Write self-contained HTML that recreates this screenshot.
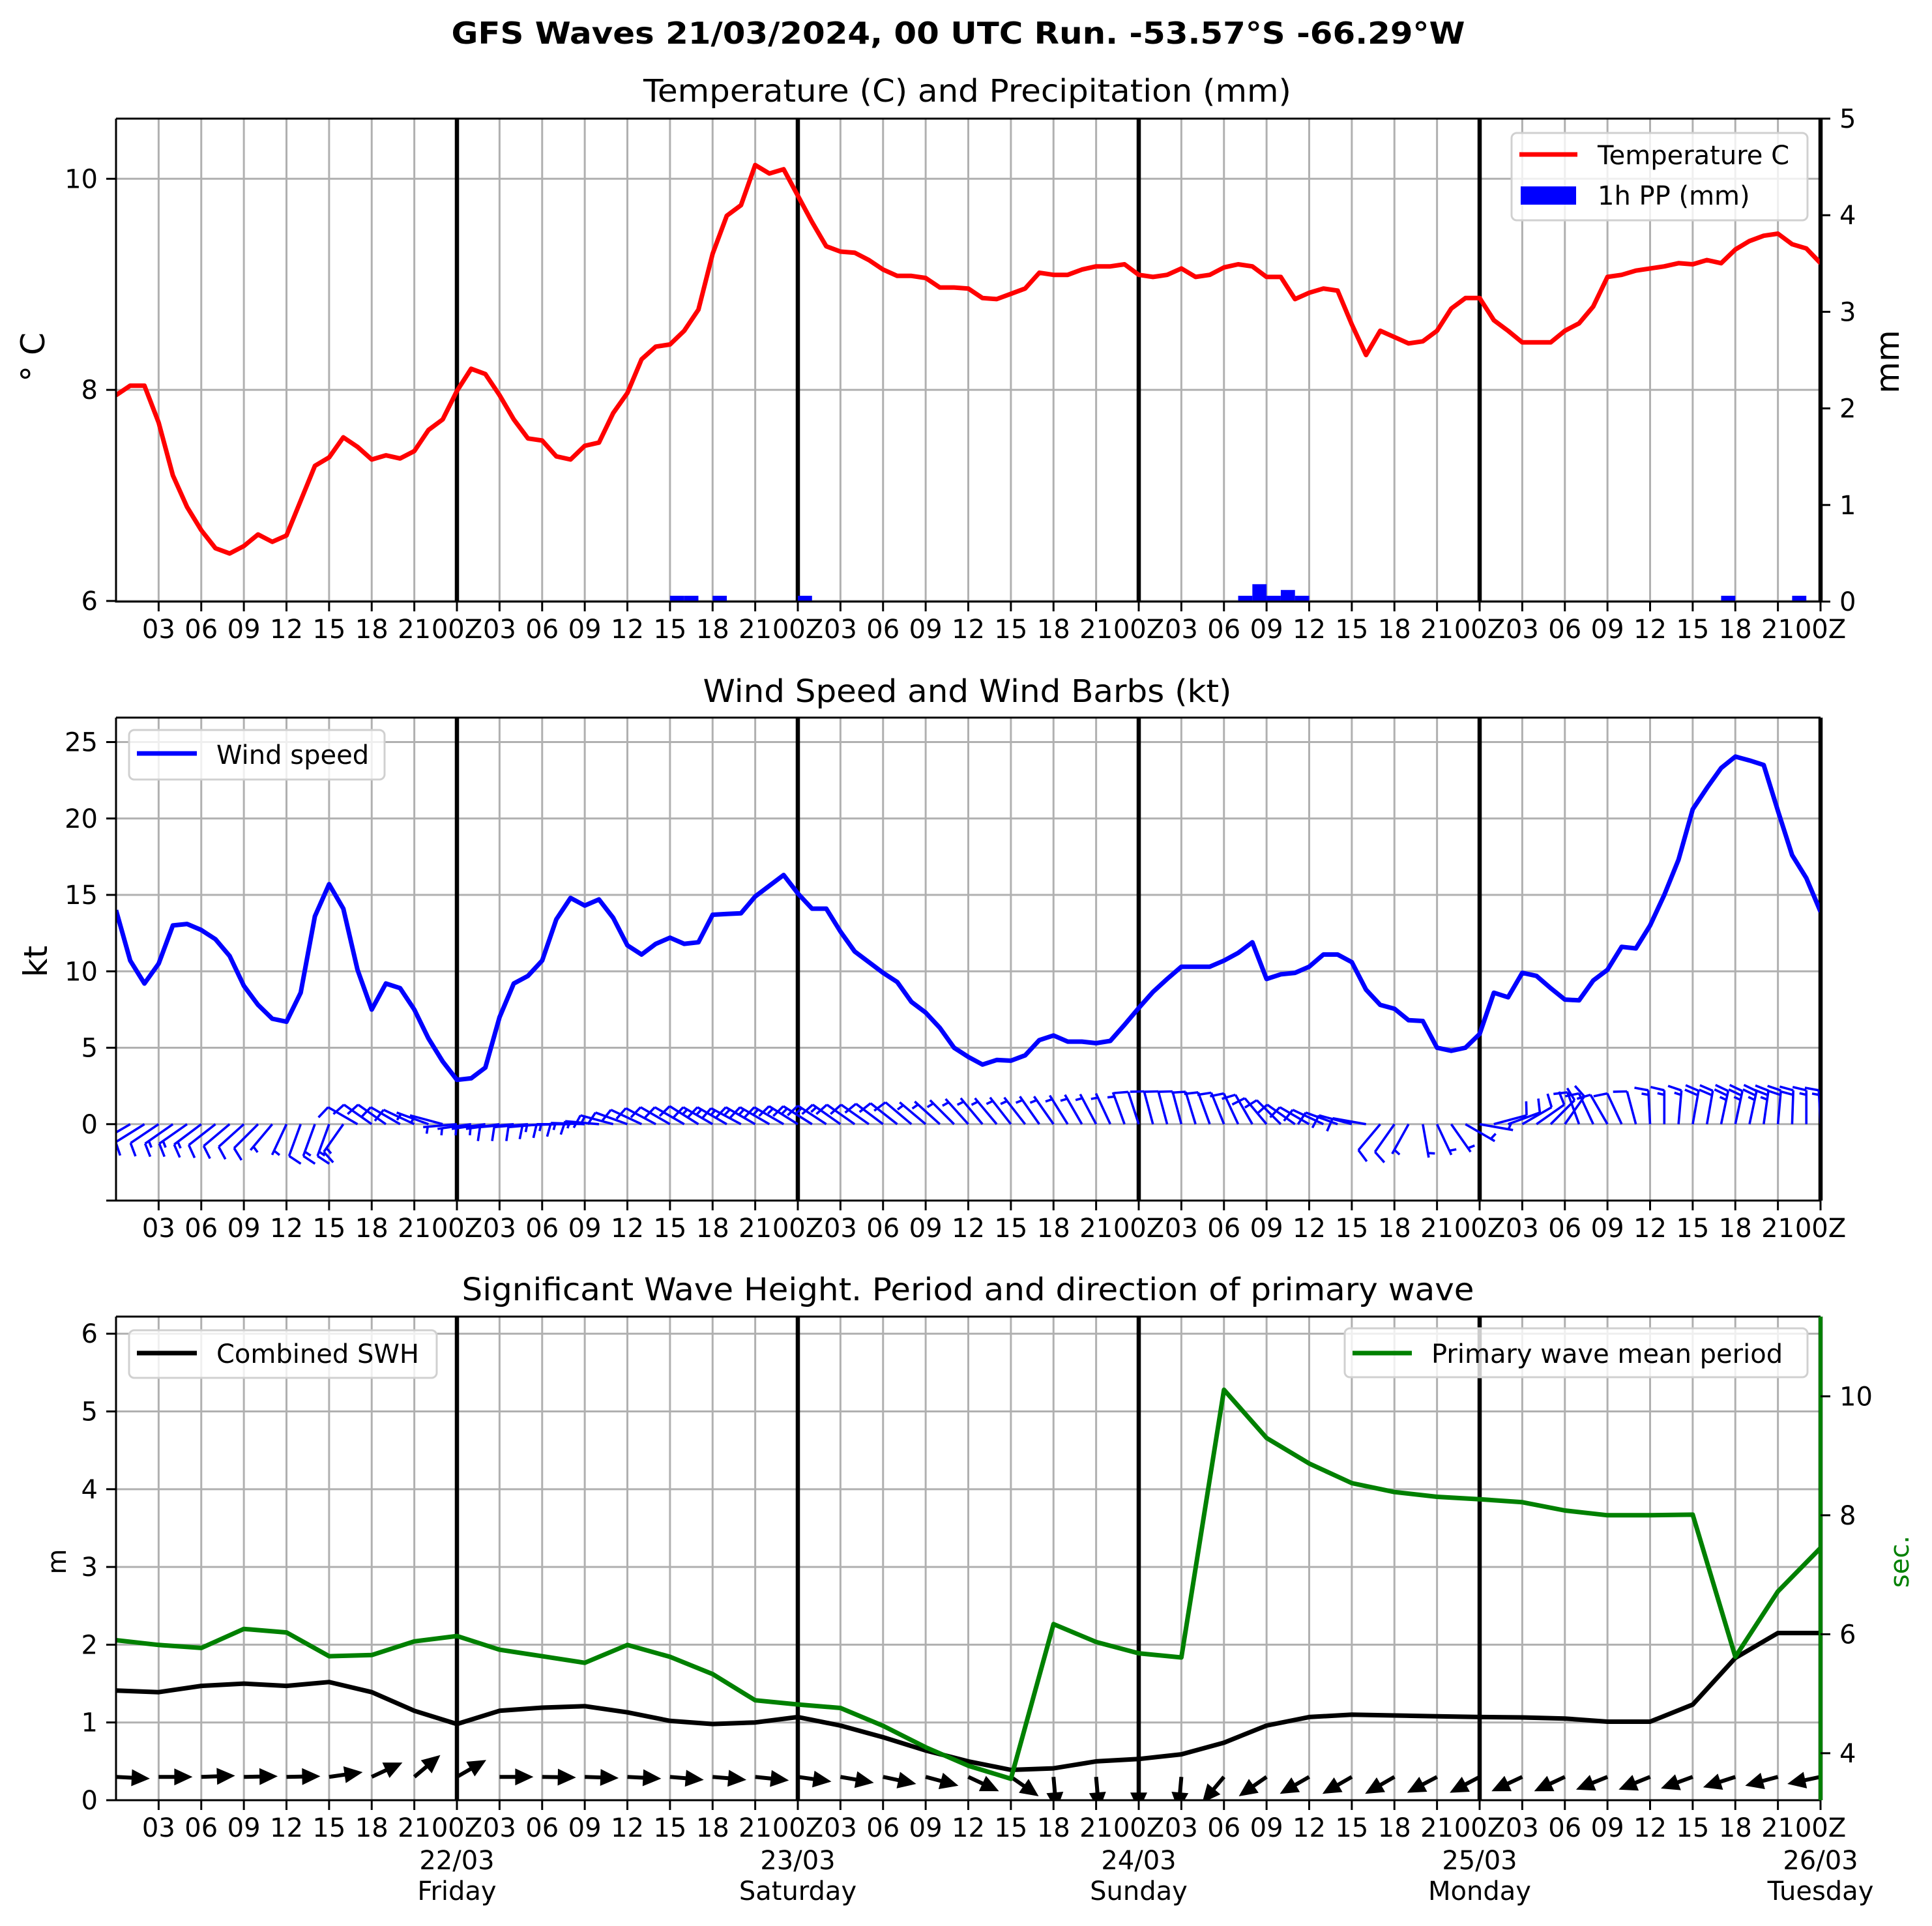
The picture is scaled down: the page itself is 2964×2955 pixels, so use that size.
<!DOCTYPE html>
<html><head><meta charset="utf-8">
<style>
body{margin:0;background:#fff}
svg{display:block;font-family:"DejaVu Sans","Liberation Sans",sans-serif}
</style></head>
<body>
<svg id="fig" width="2964" height="2955" viewBox="0 0 2964 2955" xmlns="http://www.w3.org/2000/svg">
<rect width="2964" height="2955" fill="#fff"/>
<defs>
<clipPath id="c1"><rect x="178" y="182" width="2615" height="741"/></clipPath>
<clipPath id="c2"><rect x="178" y="1101" width="2615" height="741"/></clipPath>
<clipPath id="c3"><rect x="178" y="2020" width="2615" height="742"/></clipPath>
</defs>
<text x="1470" y="67" font-size="46" font-weight="bold" text-anchor="middle" textLength="1555" lengthAdjust="spacingAndGlyphs">GFS Waves 21/03/2024, 00 UTC Run. -53.57°S -66.29°W</text>
<text x="1484" y="156" font-size="48" text-anchor="middle" textLength="994" lengthAdjust="spacingAndGlyphs">Temperature (C) and Precipitation (mm)</text>
<text x="1484" y="1077" font-size="48" text-anchor="middle" textLength="811" lengthAdjust="spacingAndGlyphs">Wind Speed and Wind Barbs (kt)</text>
<text x="1485" y="1995" font-size="48" text-anchor="middle" textLength="1553" lengthAdjust="spacingAndGlyphs">Significant Wave Height. Period and direction of primary wave</text>
<g id="p1"></g>
<g id="p2"></g>
<g id="p3"></g>
</svg>
<script>
// ---------- data ----------
const temperature = [7.95,8.04,8.04,7.69,7.19,6.89,6.67,6.50,6.45,6.52,6.63,6.56,6.62,6.95,7.28,7.36,7.55,7.46,7.34,7.38,7.35,7.42,7.62,7.72,7.99,8.20,8.15,7.95,7.72,7.54,7.52,7.37,7.34,7.47,7.50,7.78,7.97,8.29,
8.41,8.43,8.56,8.76,9.29,9.65,9.75,10.13,10.05,10.09,9.84,9.59,9.36,9.31,9.30,9.23,9.14,9.08,9.08,9.06,8.97,8.97,8.96,8.87,8.86,8.91,8.96,9.11,9.09,9.09,9.14,9.17,9.17,9.19,9.09,9.07,9.09,9.15,9.07,9.09,9.16,9.19,9.17,9.07,9.07,8.86,8.92,8.96,8.94,8.62,8.33,8.56,8.50,8.44,8.46,8.56,8.77,8.87,8.87,8.66,8.56,8.45,8.45,8.45,8.56,8.63,8.79,9.07,9.09,9.13,9.15,9.17,9.20,9.19,9.23,9.20,9.33,9.41,9.46,9.48,9.38,9.34,9.20];
const precipHours = [39,40,42,48,79,80,81,82,83,113,118];
const precipValues = [0.06,0.06,0.06,0.06,0.06,0.18,0.06,0.12,0.06,0.06,0.06];
const windSpeed = [14.0,10.7,9.2,10.5,13.0,13.1,12.7,12.1,11.0,9.05,7.8,6.9,6.7,8.6,13.6,15.7,14.1,10.1,7.5,9.2,8.9,7.5,5.6,4.1,2.9,3.0,3.7,7.0,9.2,9.7,10.7,13.4,14.8,14.3,14.7,13.5,11.7,11.1,11.8,12.2,11.8,11.9,13.7,
13.75,13.8,14.9,15.6,16.3,15.1,14.1,14.1,12.6,11.3,10.6,9.9,9.3,8.0,7.3,6.3,5.0,4.4,3.9,4.2,4.15,4.5,5.5,5.8,5.4,5.4,5.3,5.45,6.5,7.6,8.65,9.5,10.3,10.3,10.3,10.7,11.2,11.9,9.5,9.8,9.9,10.3,11.1,11.1,10.6,8.8,
7.8,7.55,6.8,6.75,5.0,4.8,5.0,5.9,8.6,8.3,9.9,9.7,8.9,8.15,8.1,9.4,10.1,11.6,11.5,13.0,15.0,17.3,20.6,22.0,23.3,24.05,23.8,23.5,20.5,17.6,16.1,13.9];
const windDir = [240,240,238,236,235,235,233,232,230,228,225,220,
205,200,200,200,215,
300,305,305,300,295,290,285,
265,262,262,262,265,265,265,268,270,272,275,
285,290,295,298,300,300,302,300,300,298,300,300,300,302,302,303,305,305,305,307,308,310,310,312,
315,318,320,320,322,322,325,325,328,330,332,335,
340,342,345,345,345,343,340,338,335,330,
320,315,305,300,295,290,285,280,
220,215,209,170,155,145,120,100,
75,70,60,55,45,35,
340,335,330,335,345,357,0,5,10,10,12,12,12,8,5,2,0,357];
const swh = [1.41,1.39,1.47,1.50,1.47,1.52,1.39,1.15,0.98,1.15,1.19,1.21,1.13,1.02,0.98,1.00,1.07,0.96,0.81,0.64,0.50,0.39,0.41,0.50,0.53,0.59,0.74,0.96,1.07,1.10,1.09,1.08,1.07,1.065,1.05,1.01,1.01,1.23,1.83,2.15,2.15];
const wavePeriod = [5.90,5.82,5.77,6.09,6.03,5.63,5.65,5.88,5.97,5.74,5.63,5.52,5.82,5.62,5.33,4.89,4.82,4.76,4.46,4.10,3.79,3.57,6.17,5.87,5.68,5.61,10.11,9.30,8.87,8.54,8.39,8.31,8.27,8.22,8.08,8.00,8.00,8.01,5.62,6.72,7.45];
const waveDir = [-3,0,2,1,1,8,25,40,30,0,-1,-2,-3,-5,-5,-6,-8,-10,-12,-15,-25,-35,-85,-85,-90,-95,-130,-145,-150,-150,-150,-152,-152,-155,-155,-158,-158,-160,-162,-165,-168];
const tempTicks = [6,8,10];
const mmTicks = [0,1,2,3,4,5];
const windTicks = [0,5,10,15,20,25];
const mTicks = [0,1,2,3,4,5,6];
const secTicks = [4,6,8,10];
const dateLabels = ["22/03","23/03","24/03","25/03","26/03"];
const dayLabels = ["Friday","Saturday","Sunday","Monday","Tuesday"];

// ---------- scales ----------
const NS="http://www.w3.org/2000/svg";
const X0=178, X1=2793;
const xs = h => X0 + (h/120)*(X1-X0);
const lin = (d0,d1,r0,r1) => v => r0 + (v-d0)/(d1-d0)*(r1-r0);
const yT = lin(5.994,10.57,923,182), yP = lin(0,5,923,182);
const yW = lin(-5,26.6,1842,1101);
const yH = lin(0,6.22,2762,2020), yS = lin(3.21,11.34,2762,2020);

function mk(tag, attrs, parent){
  const e=document.createElementNS(NS,tag);
  for(const k in attrs) e.setAttribute(k,attrs[k]);
  parent.appendChild(e); return e;
}
function txt(parent, x, y, s, size, anchor, extra){
  const t = mk('text', Object.assign({x:x,y:y,'font-size':size,'text-anchor':anchor||'middle'}, extra||{}), parent);
  t.textContent = s; return t;
}
const pad2 = n => (n<10?'0':'')+n;

function frame(g, top, bot, yticks, yfun, opts){
  for(let h=3; h<=117; h+=3){
    const l = mk('line',{x1:xs(h),x2:xs(h),y1:top,y2:bot,stroke:'#b0b0b0','stroke-width':3},g);
    
    
  }
  yticks.forEach(v=>{
    const l = mk('line',{x1:X0,x2:X1,y1:yfun(v),y2:yfun(v),stroke:'#b0b0b0','stroke-width':3},g);
    
    
    const tk = mk('line',{x1:X0-15,x2:X0,y1:yfun(v),y2:yfun(v),stroke:'#000','stroke-width':3},g);
    
    
    const t = txt(g, 150, yfun(v)+14, String(v), 40, 'end');
    
    
  });
  if(opts && opts.extraLeftTick!==undefined){
    const tk = mk('line',{x1:X0-15,x2:X0,y1:opts.extraLeftTick,y2:opts.extraLeftTick,stroke:'#000','stroke-width':3},g);
    
    
  }
  for(let d=1; d<=5; d++){
    const l = mk('line',{x1:xs(24*d),x2:xs(24*d),y1:top,y2:bot,stroke:'#000','stroke-width':6.5},g);
    
    
  }
  for(let h=3; h<=120; h+=3){
    const tk = mk('line',{x1:xs(h),x2:xs(h),y1:bot,y2:bot+15,stroke:'#000','stroke-width':3},g);
    
    
    const lab = (h%24===0)?'00Z':pad2(h%24);
    const t = txt(g, xs(h), bot+56, lab, 40, 'middle');
    
    
  }
}
function spine(g, top, bot, rightColor, rightW){
  const r = mk('path',{d:`M${X0} ${top} H${X1} M${X0} ${top} V${bot} H${X1}`,fill:'none',stroke:'#000','stroke-width':3},g);
  
  
  const rs = mk('line',{x1:X1,x2:X1,y1:top,y2:bot,stroke:rightColor||'#000','stroke-width':rightW||3},g);
  
  
}
function legendBox(g,x,y,w,h){
  const r = mk('rect',{x:x,y:y,width:w,height:h,rx:8,fill:'#fff','fill-opacity':0.8,stroke:'#d0d0d0','stroke-width':3},g);
  
  
  return r;
}
function poly(g, vals, xf, yf, color, w, clip){
  const d = vals.map((v,i)=>(i?'L':'M')+xf(i).toFixed(1)+' '+yf(v).toFixed(1)).join(' ');
  return mk('path',{d:d,fill:'none',stroke:color,'stroke-width':w,'stroke-linejoin':'round','clip-path':clip},g);
}

// ---------- panel 1 ----------
const g1 = document.getElementById('p1');
frame(g1,182,923,tempTicks,yT);
precipHours.forEach((h,i)=>{
  const b = mk('rect',{x:xs(h),y:yP(precipValues[i]),width:xs(h+1)-xs(h),height:yP(0)-yP(precipValues[i]),fill:'#0000ff'},g1);
  
  
});
const tl = poly(g1, temperature, i=>xs(i), yT, '#ff0000', 7, 'url(#c1)');


spine(g1,182,923);
mmTicks.forEach(v=>{
  const tk = mk('line',{x1:X1,x2:X1+15,y1:yP(v),y2:yP(v),stroke:'#000','stroke-width':3},g1);
  
  
  const t = txt(g1, 2822, yP(v)+14, String(v), 40, 'start');
  
  
});
let t1 = txt(g1, 0, 0, '° C', 50, 'middle', {transform:'translate(68,548) rotate(-90)'});


let t2 = txt(g1, 0, 0, 'mm', 50, 'middle', {transform:'translate(2913,555) rotate(-90)'});


legendBox(g1,2319,204,454,134);
let l1 = mk('line',{x1:2331,x2:2420,y1:237,y2:237,stroke:'#ff0000','stroke-width':7},g1);


let lt1 = txt(g1, 2451, 252, 'Temperature C', 40, 'start');


let l2 = mk('rect',{x:2333,y:286,width:85,height:28,fill:'#0000ff'},g1);


let lt2 = txt(g1, 2451, 314, '1h PP (mm)', 40, 'start');



// ---------- panel 2 ----------
const g2 = document.getElementById('p2');
frame(g2,1101,1842,windTicks,yW,{extraLeftTick:1842});
const wl = poly(g2, windSpeed, i=>xs(i), yW, '#0000ff', 7, 'url(#c2)');


const barbG = mk('g',{'clip-path':'url(#c2)'},g2);


windSpeed.forEach((s,i)=>{
  const x=xs(i), y=yW(0), L=52;
  const r = windDir[i]*Math.PI/180;
  const dx=Math.sin(r), dy=-Math.cos(r);
  const px=dy, py=-dx;
  const tx=x+L*dx, ty=y+L*dy;
  let d=`M${x.toFixed(1)} ${y.toFixed(1)} L${tx.toFixed(1)} ${ty.toFixed(1)}`;
  const rs = Math.round(s/5)*5;
  let n10 = Math.floor(rs/10), half = (rs%10)>=5;
  let off=0;
  for(let k=0;k<n10;k++){
    const sx=tx-dx*off, sy=ty-dy*off;
    d+=` M${sx.toFixed(1)} ${sy.toFixed(1)} L${(sx+px*21+dx*5).toFixed(1)} ${(sy+py*21+dy*5).toFixed(1)}`;
    off+=7;
  }
  if(half){
    if(n10===0) off=7;
    const sx=tx-dx*off, sy=ty-dy*off;
    d+=` M${sx.toFixed(1)} ${sy.toFixed(1)} L${(sx+px*10.5+dx*2.5).toFixed(1)} ${(sy+py*10.5+dy*2.5).toFixed(1)}`;
  }
  const b = mk('path',{d:d,fill:'none',stroke:'#0000ff','stroke-width':3.6},barbG);
  
  
});
spine(g2,1101,1842);
let t3 = txt(g2, 0, 0, 'kt', 50, 'middle', {transform:'translate(72,1475) rotate(-90)'});


legendBox(g2,198,1120,392,76);
let l3 = mk('line',{x1:210,x2:302,y1:1156,y2:1156,stroke:'#0000ff','stroke-width':7},g2);


let lt3 = txt(g2, 332, 1172, 'Wind speed', 40, 'start');



// ---------- panel 3 ----------
const g3 = document.getElementById('p3');
frame(g3,2020,2762,mTicks,yH);
const arrG = mk('g',{'clip-path':'url(#c3)'},g3);


waveDir.forEach((a,k)=>{
  const x=xs(3*k), y=yH(0.3), L=52, hl=28, hw=13, sw=3;
  const r=a*Math.PI/180, ux=Math.cos(r), uy=-Math.sin(r), px=-uy, py=ux;
  const bx=x+ux*(L-hl), by=y+uy*(L-hl);
  const pts=[[x+px*sw,y+py*sw],[bx+px*sw,by+py*sw],[bx+px*hw,by+py*hw],[x+ux*L,y+uy*L],[bx-px*hw,by-py*hw],[bx-px*sw,by-py*sw],[x-px*sw,y-py*sw]];
  const p = mk('polygon',{points:pts.map(q=>q[0].toFixed(1)+','+q[1].toFixed(1)).join(' '),fill:'#000'},arrG);
  
  
});
const sl = poly(g3, swh, k=>xs(3*k), yH, '#000', 7, 'url(#c3)');


const pl = poly(g3, wavePeriod, k=>xs(3*k), yS, '#008000', 7, 'url(#c3)');


spine(g3,2020,2762,'#008000',6);
secTicks.forEach(v=>{
  const tk = mk('line',{x1:X1,x2:X1+15,y1:yS(v),y2:yS(v),stroke:'#000','stroke-width':3},g3);
  
  
  const t = txt(g3, 2822, yS(v)+14, String(v), 40, 'start');
  
  
});
dateLabels.forEach((s,i)=>{
  const t = txt(g3, xs(24*(i+1)), 2868, s, 40, 'middle');
  
  
  const t2 = txt(g3, xs(24*(i+1)), 2915, dayLabels[i], 40, 'middle');
  
  
});
let t4 = txt(g3, 0, 0, 'm', 40, 'middle', {transform:'translate(101,2396) rotate(-90)'});


let t5 = txt(g3, 0, 0, 'sec.', 40, 'middle', {transform:'translate(2928,2396) rotate(-90)',fill:'#008000'});


legendBox(g3,198,2041,472,73);
let l4 = mk('line',{x1:210,x2:302,y1:2076,y2:2076,stroke:'#000','stroke-width':7},g3);


let lt4 = txt(g3, 332, 2091, 'Combined SWH', 40, 'start');


legendBox(g3,2063,2038,710,75);
let l5 = mk('line',{x1:2075,x2:2166,y1:2076,y2:2076,stroke:'#008000','stroke-width':7},g3);


let lt5 = txt(g3, 2196, 2091, 'Primary wave mean period', 40, 'start');


</script>
</body></html>
